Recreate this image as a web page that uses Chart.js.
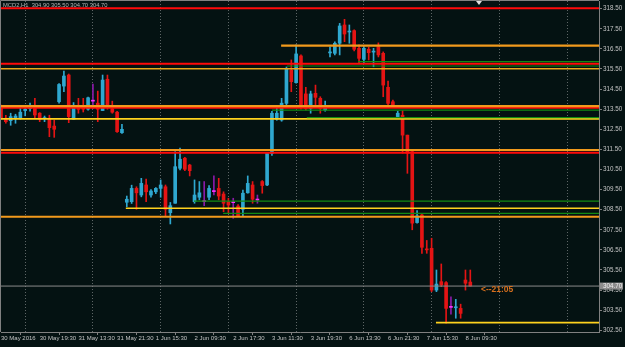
<!DOCTYPE html>
<html>
<head>
<meta charset="utf-8">
<script src="https://cdn.jsdelivr.net/npm/chart.js@4.4.1/dist/chart.umd.min.js"></script>
<style>
html, body { margin: 0; padding: 0; background: #041212; }
#wrap { width: 625px; height: 347px; }
</style>
</head>
<body>
<div id="wrap"><canvas id="mcd-chart"></canvas></div>
<script>
// MCD2, H1 candles (bar index 0 = 30 May 2016)
const opens  = [313.66,313.05,312.93,313.05,313.05,313.43,313.53,313.63,313.30,313.03,
                313.05,312.66,313.87,314.65,315.20,313.00,313.57,313.63,313.50,313.90,
                313.80,313.43,314.99,313.52,313.35,312.33,308.87,308.90,309.56,309.23,
                309.73,309.23,309.39,309.56,309.64,308.35,308.82,310.56,311.06,310.72,
                308.90,309.12,308.90,309.12,309.40,309.56,309.28,308.90,308.85,308.68,
                308.52,309.34,309.73,308.98,309.90,309.73,311.30,313.00,312.96,313.79,
                315.45,314.82,316.15,314.26,313.54,314.29,314.04,313.46,316.30,316.28,
                316.78,317.69,317.34,317.41,316.53,315.98,316.48,316.34,316.61,316.28,
                314.59,313.87,313.13,313.20,312.21,311.39,307.86,308.24,306.55,306.58,
                304.50,304.92,304.87,303.64,303.62,303.59,305.00,304.90];
const highs  = [313.70,313.20,313.30,313.25,313.55,313.63,313.80,314.04,313.33,313.16,
                313.20,312.96,314.78,315.40,315.25,313.83,314.04,314.04,314.10,314.75,
                314.40,315.20,315.20,313.90,313.40,312.75,309.18,309.72,309.64,310.06,
                310.02,309.50,309.60,309.98,309.73,308.86,311.39,311.56,311.11,310.76,
                309.98,309.90,309.90,309.70,310.18,310.06,309.39,309.07,309.07,308.75,
                309.48,310.18,309.90,309.23,309.95,311.35,313.40,313.60,314.04,315.60,
                315.95,316.70,316.20,314.59,314.40,314.70,314.12,313.90,316.60,316.85,
                317.77,317.97,317.69,317.45,316.70,316.62,316.58,316.53,316.80,316.35,
                314.90,313.95,313.40,313.43,312.21,311.45,308.45,308.30,306.97,307.08,
                305.50,305.80,304.92,304.17,304.04,303.80,305.50,305.50];
const lows   = [313.00,312.80,312.70,312.80,313.00,313.17,313.40,313.05,312.88,312.88,
                312.13,312.10,313.80,314.37,312.83,313.00,313.30,313.36,313.45,313.52,
                312.88,313.43,313.50,313.30,312.35,312.30,308.65,308.81,308.52,309.14,
                308.90,309.12,309.30,309.12,308.18,307.79,308.82,310.48,310.44,310.18,
                308.82,308.99,308.70,309.00,309.23,308.99,308.40,308.32,308.07,308.15,
                308.16,309.32,308.82,308.82,309.32,309.70,311.20,312.95,312.90,313.70,
                314.37,314.79,313.50,313.46,313.30,313.71,313.30,313.40,316.10,316.20,
                316.20,316.86,316.78,316.40,315.78,315.78,315.95,315.61,316.10,314.12,
                313.70,313.60,313.10,311.31,310.31,307.50,307.83,306.33,306.33,304.42,
                304.42,304.67,302.85,303.30,303.10,303.10,304.50,304.70];
const closes = [313.05,312.88,313.13,313.16,313.35,313.50,313.56,313.21,313.00,313.07,
                312.58,312.50,314.73,315.15,313.13,313.59,313.49,313.50,314.07,313.90,
                313.50,314.95,313.63,313.35,312.38,312.50,309.02,309.56,309.34,309.81,
                309.39,309.43,309.56,309.73,308.52,308.70,310.64,311.01,310.51,310.44,
                309.23,309.34,308.90,309.56,309.40,309.18,308.82,308.73,308.85,308.18,
                309.32,309.81,309.02,308.98,309.70,311.30,313.30,313.30,313.80,315.53,
                314.87,316.25,313.63,313.54,314.26,314.09,313.54,313.63,316.35,316.78,
                317.64,317.24,317.38,316.48,316.03,316.53,316.31,316.38,316.20,314.70,
                313.79,313.66,313.30,312.21,311.31,307.83,308.19,306.63,306.50,304.50,
                304.80,304.75,303.59,303.64,303.66,303.34,304.84,304.70];

// time axis labels (every 8 bars)
const tickBars   = [0, 8, 16, 24, 32, 40, 48, 56, 64, 72, 80, 88, 96];
const tickLabels = ['30 May 2016', '30 May 19:30', '31 May 13:30', '31 May 21:30', '1 Jun 15:30',
                    '2 Jun 09:30', '2 Jun 17:30', '3 Jun 11:30', '3 Jun 19:30', '6 Jun 13:30',
                    '6 Jun 21:30', '7 Jun 15:30', '8 Jun 09:30'];
const gridBars   = [12, 26, 40, 54, 68, 82, 96, 110];
const yTicks     = [318.5, 317.5, 316.5, 315.5, 314.5, 313.5, 312.5, 311.5, 310.5,
                    309.5, 308.5, 307.5, 306.5, 305.5, 304.5, 303.5, 302.5];

// horizontal levels: price and the bar where the line begins
const levelPrices = [318.52, 316.66, 315.87, 315.76, 315.65, 315.51, 313.65, 313.57, 313.45, 313.08,
                     313.02, 311.47, 311.33, 308.93, 308.57, 308.32, 308.15, 304.70, 302.88];
const levelStarts = [0, 57.9, 73.8, 0, 59.1, 0, 0, 0, 56, 63.2,
                     0, 0, 0, 39.9, 25.8, 45.9, 0, 0, 89.9];
const levelKinds  = ['red', 'orange', 'green', 'red', 'green', 'gold', 'orange', 'red', 'green', 'green',
                     'yellow', 'orange', 'red', 'green', 'yellow', 'green', 'orange', 'gray', 'yellow'];

const timerText = '<--21:05';

const X_MAX = 123.6;
const kindStyle = {
    red:    { color: '#ff0a0a', width: 2 },
    orange: { color: '#f29a1c', width: 2.2 },
    gold:   { color: '#e8a81c', width: 1.6 },
    yellow: { color: '#ffd21e', width: 1.6 },
    green:  { color: '#138a13', width: 1.2 },
    gray:   { color: '#8a8a8a', width: 1 }
};

const UP = '#2fa8d0', DOWN = '#e41414', DOJI_WICK = '#8a1aa8', DOJI_BODY = '#ff30ff';
const candleColor = (i, doji) => {
    if (Math.abs(opens[i] - closes[i]) < 0.005) return doji;
    return closes[i] > opens[i] ? UP : DOWN;
};

const wickData = opens.map((o, i) => ({ x: i, y: [lows[i], highs[i]] }));
const bodyData = opens.map((o, i) => ({ x: i, y: [Math.min(o, closes[i]), Math.max(o, closes[i])] }));

const levelSets = levelPrices.map((p, i) => ({
    type: 'line',
    data: [{ x: levelStarts[i], y: p }, { x: X_MAX, y: p }],
    borderColor: kindStyle[levelKinds[i]].color,
    borderWidth: kindStyle[levelKinds[i]].width,
    pointRadius: 0,
    fill: false,
    order: 0,
    xAxisID: 'x',
    yAxisID: 'y'
}));

const labelFont = { family: 'Liberation Sans', size: 6 };

const overlay = {
    id: 'overlay',
    afterDraw(chart) {
        const c = chart.ctx, a = chart.chartArea, y = chart.scales.y;
        const n = closes.length - 1;
        c.save();
        // frame
        c.strokeStyle = '#808080';
        c.lineWidth = 1;
        c.beginPath();
        c.moveTo(a.left - 0.5, a.bottom);
        c.lineTo(a.left - 0.5, a.top - 0.5);
        c.lineTo(a.right, a.top - 0.5);
        c.stroke();
        // symbol / last bar OHLC
        c.fillStyle = '#b4b4b4';
        c.font = '5.8px "Liberation Sans"';
        c.textBaseline = 'middle';
        c.fillText('MCD2,H1  ' + [opens[n], highs[n], lows[n], closes[n]].map(v => v.toFixed(2)).join(' '), 3, 5.5);
        // last price box
        const py = y.getPixelForValue(closes[n]);
        c.fillStyle = '#8c8c8c';
        c.fillRect(a.right + 1, py - 3.5, 23, 7);
        c.fillStyle = '#f0f0f0';
        c.font = '6.3px "Liberation Sans"';
        c.fillText(closes[n].toFixed(2), a.right + 4, py);
        // candle timer
        c.fillStyle = '#d8701e';
        c.font = 'bold 8.5px "Liberation Sans"';
        c.fillText(timerText, chart.scales.x.getPixelForValue(99.2), py + 4);
        // chart shift marker
        const sx = chart.scales.x.getPixelForValue(98.8);
        c.fillStyle = '#e0e0e0';
        c.beginPath();
        c.moveTo(sx - 3, a.top);
        c.lineTo(sx + 3, a.top);
        c.lineTo(sx, a.top + 4);
        c.closePath();
        c.fill();
        c.restore();
    }
};

new Chart(document.getElementById('mcd-chart'), {
    type: 'bar',
    data: {
        datasets: [
            ...levelSets,
            {
                data: bodyData,
                backgroundColor: opens.map((o, i) => candleColor(i, DOJI_BODY)),
                barThickness: 3,
                minBarLength: 1,
                grouped: false,
                order: 1,
                xAxisID: 'x',
                yAxisID: 'y'
            },
            {
                data: wickData,
                backgroundColor: opens.map((o, i) => candleColor(i, DOJI_WICK)),
                barThickness: 1,
                grouped: false,
                order: 2,
                xAxisID: 'x',
                yAxisID: 'y'
            }
        ]
    },
    options: {
        responsive: true,
        maintainAspectRatio: false,
        animation: false,
        devicePixelRatio: 1,
        layout: { padding: { left: 1, top: 1, right: 0, bottom: 0 } },
        plugins: { legend: { display: false }, tooltip: { enabled: false } },
        scales: {
            x: {
                type: 'linear', min: 0, max: X_MAX, offset: false,
                afterFit: s => { s.height = 15; s.paddingLeft = 0; s.paddingRight = 0; },
                afterBuildTicks: s => { s.ticks = tickBars.map(v => ({ value: v })); },
                ticks: {
                    callback: v => tickLabels[tickBars.indexOf(v)],
                    color: '#c4c4c4', font: labelFont, align: 'start',
                    padding: 0, maxRotation: 0, autoSkip: false
                },
                grid: { drawOnChartArea: false, drawTicks: true, tickLength: 3, color: '#808080' },
                border: { color: '#808080' }
            },
            xg: {
                type: 'linear', position: 'bottom', min: 0, max: X_MAX, offset: false,
                afterFit: s => { s.height = 0; s.paddingLeft = 0; s.paddingRight = 0; },
                afterBuildTicks: s => { s.ticks = gridBars.map(v => ({ value: v })); },
                ticks: { display: false },
                grid: { drawTicks: false, color: '#5e6666' },
                border: { display: false, dash: [1, 2] }
            },
            y: {
                position: 'right', min: 302.415, max: 318.883,
                afterFit: s => { s.width = 26; s.paddingTop = 0; s.paddingBottom = 0; },
                afterBuildTicks: s => { s.ticks = yTicks.map(v => ({ value: v })); },
                ticks: {
                    callback: v => v.toFixed(2),
                    color: '#c4c4c4', font: { family: 'Liberation Sans', size: 6.3 }, padding: 1
                },
                grid: { drawOnChartArea: false, tickLength: 3, color: '#808080' },
                border: { color: '#808080' }
            }
        }
    },
    plugins: [overlay]
});
</script>
</body>
</html>
